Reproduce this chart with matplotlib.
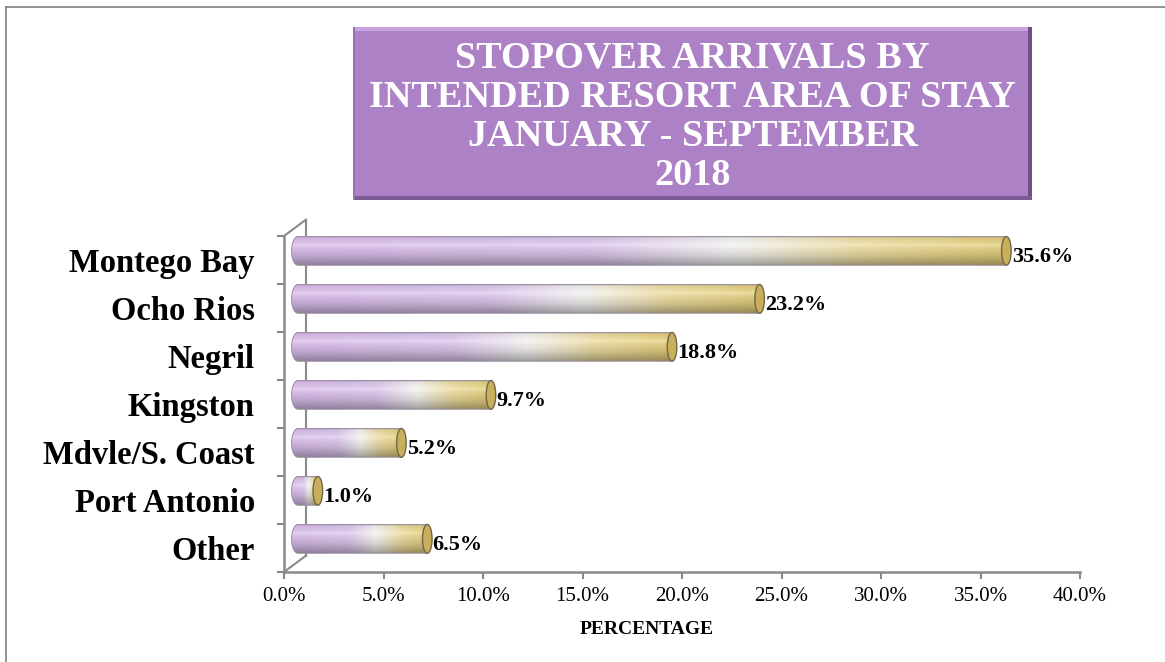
import numpy as np
import matplotlib
matplotlib.use("Agg")
import matplotlib.pyplot as plt
from matplotlib.path import Path
from matplotlib.patches import PathPatch, Ellipse, Rectangle
from matplotlib.colors import LinearSegmentedColormap

# Data
areas = ["Montego Bay", "Ocho Rios", "Negril", "Kingston",
         "Mdvle/S. Coast", "Port Antonio", "Other"]
shares = [35.6, 23.2, 18.8, 9.7, 5.2, 1.0, 6.5]
xticks = [0, 5, 10, 15, 20, 25, 30, 35, 40]
title_lines = ["STOPOVER ARRIVALS BY", "INTENDED RESORT AREA OF STAY",
               "JANUARY - SEPTEMBER", "2018"]

SERIF = ["Liberation Serif", "DejaVu Serif"]
AXIS_GREY = "#8a8a8a"

W, H = 1165, 662
fig = plt.figure(figsize=(W / 100, H / 100), dpi=100)

# plot area placed to match the front plane of the 3D chart
x0_px, x1_px, ytop_px, ybot_px = 284, 1080, 236, 572
ax = fig.add_axes([x0_px / W, 1 - ybot_px / H, (x1_px - x0_px) / W, (ybot_px - ytop_px) / H])
ax.set_xlim(0, 40)
ax.set_ylim(len(areas) - 0.5, -0.5)
for s in ax.spines.values():
    s.set_visible(False)

# depth offset of the 3D box (data units)
dx, dy = 1.1, -0.34
bar_dx, bar_dy = 0.7, -0.19
bar_h = 0.6
left_rx = 0.32
cap_rx = 0.24

# axis frame lines
ax.plot([0, 40], [6.5, 6.5], color=AXIS_GREY, lw=1.8, clip_on=False)
ax.plot([0, 0], [-0.5, 6.5], color=AXIS_GREY, lw=1.8, clip_on=False)
ax.plot([dx, dx], [-0.5 + dy, 6.5 + dy], color=AXIS_GREY, lw=1.5, clip_on=False)
ax.plot([0, dx], [-0.5, -0.5 + dy], color=AXIS_GREY, lw=1.5, clip_on=False)
ax.plot([0, dx], [6.5, 6.5 + dy], color=AXIS_GREY, lw=1.5, clip_on=False)

# ticks
ax.set_xticks(xticks)
ax.set_xticklabels([f"{t:.1f}%" for t in xticks], fontfamily=SERIF, fontsize=15)
ax.tick_params(axis="x", length=5, width=1.5, color=AXIS_GREY, pad=6)
ax.set_yticks(np.arange(-0.5, len(areas), 1.0))
ax.set_yticklabels([])
ax.tick_params(axis="y", which="major", length=5, width=1.5, color=AXIS_GREY)
ax.set_yticks(range(len(areas)), minor=True)
ax.set_yticklabels(areas, minor=True, fontfamily=SERIF, fontsize=23.5, fontweight="bold")
ax.tick_params(axis="y", which="minor", length=0, pad=21)

# cylinder texture: lavender -> white -> gold along the bar,
# light highlight near the top, darker towards the bottom edge
grad = LinearSegmentedColormap.from_list(
    "bar", [(0.0, "#d8bbea"), (0.42, "#dcc5ec"), (0.62, "#f3f2f1"),
            (0.8, "#ecdca0"), (1.0, "#e2cc78")])
nx, ny = 300, 60
u = np.linspace(0, 1, nx)
v = np.linspace(0, 1, ny)
base = grad(u)[:, :3]
shade = np.interp(v, [0, 0.08, 0.3, 0.55, 0.8, 1.0], [0.8, 0.95, 1.0, 0.93, 0.8, 0.66])
gloss = np.interp(v, [0, 0.2, 0.32, 0.45, 1.0], [0, 0.1, 0.25, 0.05, 0])
img_base = base[None, :, :] * shade[:, None, None]
img_base = img_base + (1 - img_base) * gloss[:, None, None]
img_base = np.clip(img_base, 0, 1)

for i, val in enumerate(shares):
    yc = i + bar_dy
    xl = bar_dx
    xr = bar_dx + val
    y_top, y_bot = yc - bar_h / 2, yc + bar_h / 2
    # outline: left half-ellipse + straight body
    t = np.linspace(np.pi / 2, 3 * np.pi / 2, 40)
    left = np.column_stack([xl + left_rx * np.cos(t), yc - (bar_h / 2) * np.sin(t)])
    verts = np.vstack([[[xr, y_top]], [[xl, y_top]], left, [[xl, y_bot]], [[xr, y_bot]], [[xr, y_top]]])
    clip = PathPatch(Path(verts), facecolor="none", edgecolor="#9a8fa0", lw=0.7, zorder=3)
    ax.add_patch(clip)
    im = ax.imshow(img_base, extent=[xl - left_rx, xr, y_bot, y_top], aspect="auto",
                   interpolation="bilinear", zorder=2)
    im.set_clip_path(clip)
    cap = Ellipse((xr, yc), 2 * cap_rx, bar_h, facecolor="#c9ae5c", edgecolor="#6f6748",
                  lw=1.0, zorder=4)
    ax.add_patch(cap)
    ax.text(xr + cap_rx + 0.03, yc + 0.12, f"{val:.1f}%", va="center", ha="left",
            fontfamily=SERIF, fontsize=16, fontweight="bold", zorder=5)

fig.text(647 / W, 1 - 630 / H, "PERCENTAGE", ha="center", va="center",
         fontfamily=SERIF, fontsize=14, fontweight="bold")

# title box
bx0, bx1, by0, by1 = 353 / W, 1032 / W, 1 - 200 / H, 1 - 27 / H
fig.patches.append(Rectangle((bx0, by0), bx1 - bx0, by1 - by0, transform=fig.transFigure,
                             facecolor="#ad81c6", edgecolor="none", zorder=1))
bev = 4 / W
bevy = 4 / H
fig.patches.append(Rectangle((bx0, by1 - bevy), bx1 - bx0, bevy, transform=fig.transFigure,
                             facecolor="#c8a3de", edgecolor="none", zorder=2))
fig.patches.append(Rectangle((bx1 - bev, by0), bev, by1 - by0, transform=fig.transFigure,
                             facecolor="#6f4f86", edgecolor="none", zorder=2))
fig.patches.append(Rectangle((bx0, by0), bx1 - bx0, bevy, transform=fig.transFigure,
                             facecolor="#7d5b95", edgecolor="none", zorder=2))
fig.patches.append(Rectangle((bx0, by0), bev * 0.6, by1 - by0, transform=fig.transFigure,
                             facecolor="#9a70b3", edgecolor="none", zorder=2))
fig.text((bx0 + bx1) / 2, 1 - 117 / H, "\n".join(title_lines), ha="center", va="center",
         color="white", fontfamily=SERIF, fontsize=27.5, fontweight="bold", linespacing=1.16)

# outer frame (top and left visible)
fig.add_artist(plt.Line2D([6 / W, 1], [1 - 7 / H, 1 - 7 / H], transform=fig.transFigure,
                          color="#7f7f7f", lw=1.2))
fig.add_artist(plt.Line2D([6 / W, 6 / W], [0, 1 - 7 / H], transform=fig.transFigure,
                          color="#7f7f7f", lw=1.2))

fig.savefig("out.png", dpi=100)
